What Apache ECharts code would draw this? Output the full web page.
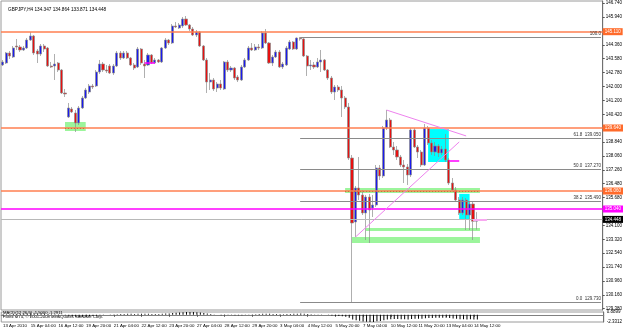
<!DOCTYPE html>
<html><head><meta charset="utf-8">
<script src="https://cdn.jsdelivr.net/npm/echarts@6/dist/echarts.min.js"></script>
<style>html,body{margin:0;padding:0;background:#fff}#c{width:625px;height:330px}</style>
</head><body><div id="c"></div>
<script>
const symbolTitle = "GBPJPY,H4";
const lastOHLC = [134.347, 134.864, 133.871, 134.448];
const opens = [143.219,143.332,143.900,143.673,144.298,144.241,144.071,144.184,144.638,144.866,
144.014,143.843,144.298,144.184,143.162,143.162,143.332,142.935,141.629,140.266,
140.720,140.493,139.925,140.777,141.345,141.685,142.026,142.026,142.821,143.275,
142.935,143.162,142.764,143.162,143.900,143.616,143.900,143.616,143.219,143.105,
144.127,143.275,143.219,143.787,143.332,143.503,143.389,144.184,144.638,144.468,
145.434,145.320,145.434,145.831,145.490,145.263,144.922,145.093,144.298,143.503,
142.253,142.367,141.913,142.140,141.856,143.389,142.935,143.048,142.537,142.367,
143.105,143.503,144.184,144.071,144.241,144.184,145.036,144.468,143.332,143.673,
143.957,143.105,143.219,144.127,144.525,144.127,144.740,144.700,143.730,143.162,
143.219,143.105,143.389,143.503,142.935,142.480,141.685,141.969,141.799,141.345,
140.834,137.937,134.303,136.234,135.836,134.814,135.722,135.098,135.268,137.370,
136.915,139.641,140.095,138.562,138.392,137.994,137.540,137.426,136.972,139.527,
138.562,138.278,137.540,139.641,138.789,138.278,138.618,138.221,138.448,137.824,
136.517,136.120,135.552,134.814,135.552,134.700,135.325,134.347];
const closes = [143.389,143.900,143.730,144.184,144.241,144.071,144.184,144.638,144.866,143.900,
143.843,144.298,144.127,143.162,143.105,143.275,142.935,141.629,141.572,140.777,
140.550,139.925,140.777,141.345,141.799,142.026,141.969,142.821,143.275,142.935,
142.878,142.764,143.162,143.900,143.616,143.900,143.616,143.219,143.048,144.127,
143.332,143.162,143.787,143.332,143.503,143.389,144.184,144.638,144.468,145.434,
145.377,145.490,145.831,145.490,145.263,144.922,145.093,144.298,143.503,142.253,
142.367,141.856,142.140,141.913,143.389,142.935,143.048,142.480,142.367,143.105,
143.503,144.184,144.071,144.241,144.184,145.036,144.468,143.332,143.673,143.957,
143.105,143.275,144.184,144.525,144.127,144.752,144.700,143.730,143.162,143.219,
143.105,143.389,143.503,142.935,142.480,141.685,141.969,141.799,141.345,140.834,
137.937,134.246,136.234,135.836,134.814,135.722,134.984,135.268,137.370,136.915,
139.641,140.095,138.562,138.392,137.994,137.540,137.426,136.972,139.527,138.562,
138.278,137.540,139.641,138.789,138.278,138.618,138.221,138.448,137.824,136.517,
136.120,135.552,134.814,135.552,134.700,135.325,134.347,134.448];
const highs = [143.503,143.957,144.014,144.298,144.695,144.354,144.298,144.752,145.093,144.922,
144.127,144.411,144.411,144.241,143.389,143.843,143.389,142.991,141.856,141.061,
140.834,140.663,140.890,141.458,141.913,142.140,142.140,142.935,143.503,143.389,
143.219,143.275,143.275,144.014,144.014,144.014,144.014,143.673,143.332,144.241,
144.184,143.503,143.900,143.843,143.616,143.559,144.241,144.752,144.695,145.547,
145.661,145.604,145.945,146.001,145.547,145.377,145.206,145.150,144.354,143.616,
142.764,142.480,142.253,142.367,143.446,143.503,143.162,143.105,142.651,143.219,
143.616,144.298,144.468,144.411,144.411,145.150,145.263,144.525,143.787,144.071,
144.071,143.389,144.298,144.638,144.582,144.780,144.810,144.750,143.787,143.503,
143.389,143.616,144.071,143.559,142.991,142.594,142.083,142.083,142.026,141.458,
141.061,138.107,136.347,137.994,136.120,135.836,135.893,135.836,137.540,137.540,
139.755,140.663,140.209,138.846,138.618,138.107,137.824,137.597,139.641,139.641,
138.675,138.392,139.868,139.755,138.959,138.846,138.732,138.618,139.300,137.937,
136.801,136.290,135.722,135.722,135.665,135.438,135.495,134.864];
const lows = [143.162,143.275,143.559,143.616,144.071,143.957,144.014,144.127,144.582,143.787,
143.332,143.730,143.957,143.105,143.048,142.367,142.821,141.572,141.401,140.209,
140.493,139.414,139.811,140.720,141.288,141.572,141.856,141.969,142.708,142.821,
142.764,142.708,142.651,143.105,143.503,143.559,143.559,143.162,142.935,143.048,
143.219,142.480,143.162,143.275,143.275,143.332,143.332,144.127,144.354,144.411,
145.320,145.263,145.320,145.434,145.150,144.866,144.809,144.241,143.446,141.629,
141.799,141.742,141.685,141.799,141.799,142.821,142.821,142.367,142.253,142.310,
143.048,143.446,144.014,144.014,144.071,144.127,144.411,143.275,143.162,143.616,
143.048,142.991,143.162,144.071,144.071,144.071,144.600,143.673,142.594,142.935,
142.991,143.048,142.821,142.878,142.367,141.572,141.231,141.685,140.266,140.720,
137.824,129.730,133.450,135.552,134.700,133.280,133.110,134.586,135.155,136.688,
136.801,139.527,138.505,138.107,137.824,137.426,136.517,136.404,136.858,138.505,
137.937,137.426,137.483,138.675,138.107,138.051,137.994,138.107,137.710,136.404,
136.006,135.438,134.700,134.700,133.848,133.848,133.280,133.871];
const macdValues = [0.15,0.18,0.2,0.25,0.3,0.33,0.35,0.4,0.45,0.42,
0.38,0.38,0.36,0.28,0.2,0.15,0.08,-0.05,-0.15,-0.35,
-0.5,-0.65,-0.7,-0.68,-0.6,-0.5,-0.42,-0.3,-0.15,-0.07,
0.0,0.05,0.1,0.18,0.22,0.28,0.3,0.3,0.28,0.33,
0.33,0.3,0.3,0.28,0.27,0.25,0.3,0.38,0.42,0.55,
0.65,0.72,0.82,0.88,0.89,0.85,0.82,0.75,0.6,0.4,
0.25,0.1,-0.02,-0.12,-0.05,-0.05,-0.06,-0.12,-0.18,-0.15,
-0.08,0.05,0.12,0.18,0.22,0.32,0.36,0.3,0.27,0.26,
0.2,0.17,0.22,0.28,0.3,0.36,0.4,0.35,0.25,0.18,
0.12,0.1,0.08,0.02,-0.08,-0.22,-0.3,-0.38,-0.5,-0.62,
-1.0,-1.55,-1.75,-1.95,-2.15,-2.25,-2.33,-2.3,-2.1,-2.0,
-1.75,-1.5,-1.45,-1.4,-1.4,-1.42,-1.45,-1.5,-1.35,-1.3,
-1.25,-1.25,-1.1,-1.05,-1.02,-1.0,-0.98,-0.95,-0.98,-1.08,
-1.18,-1.3,-1.42,-1.45,-1.5,-1.48,-1.52,-1.5];
const macdRange = [-2.3312, 0.8899];
const macdText = "MACD(12,26,9) -1.5000 -1.2911";
const copyrightText = "Forex MT4, \u00a9 2001-2008 MetaQuotes Software Corp.";
const totalSlots = 174;
const timeLabels = ["13 Apr 2010","15 Apr 04:00","16 Apr 12:00","19 Apr 20:00","21 Apr 04:00","22 Apr 12:00","23 Apr 20:00","27 Apr 04:00","28 Apr 12:00","29 Apr 20:00","3 May 04:00","4 May 12:00","5 May 20:00","7 May 04:00","10 May 12:00","11 May 20:00","13 May 04:00","14 May 12:00"];
const priceTicks = [146.740,145.940,144.360,143.580,142.780,142.000,141.200,140.420,138.840,138.060,137.260,136.480,135.680,134.100,133.320,132.540,131.740,130.960,130.160,129.380];
const priceRange = [129.305, 146.853];
const orangeLevels = [145.110, 139.640, 136.060];
const magentaLevels = [135.040];
const bidPrice = 134.448;
const fibStartBar = 86;
const fibPcts = ["0.0","38.2","50.0","61.8","100.0"];
const fibPrices = [129.730, 135.490, 137.270, 139.050, 144.810];
const greenBoxes = [[18,24,139.98,139.47],[99,138,136.23,135.95],[105,138,133.96,133.79],[101,138,133.45,133.11]];
const cyanBoxes = [[123,129,139.58,137.71],[132,135,135.90,134.42]];
const trendLines = [[111,140.66,134,139.19],[102,133.45,132,138.85]];
const magentaSegments = [[41,44,143.33],[129,132,137.77]];
const pinkSegments = [[136,140,134.45]];
const dottedSegments = [[18,24,139.640],[99,138,136.060]];

const FONT = 'Liberation Sans';
const categories = Array.from({length: totalSlots}, (_, i) => String(i));
const candleData = opens.map((o, i) => [o, closes[i], lows[i], highs[i]]);

const hLineData = [];
const boxLabel = (txt, bg) => ({show: true, position: 'end', formatter: txt, backgroundColor: bg, color: '#fff', padding: [1, 2], fontSize: 4.5, fontFamily: FONT, distance: 0});
orangeLevels.forEach(p => hLineData.push({yAxis: p, lineStyle: {color: '#ff7f50', width: 1.5, type: 'solid'}, label: boxLabel(p.toFixed(3), '#ff6a2a')}));
magentaLevels.forEach(p => hLineData.push({yAxis: p, lineStyle: {color: '#ff00ff', width: 1.5, type: 'solid'}, label: boxLabel(p.toFixed(3), '#ff00ff')}));
hLineData.push({yAxis: bidPrice, lineStyle: {color: '#b8b8b8', width: 1, type: 'solid'}, label: boxLabel(bidPrice.toFixed(3), '#000')});

const fibData = fibPrices.map((p, k) => [
  {coord: [fibStartBar, p], lineStyle: {color: '#8a8a8a', width: 1, type: 'solid'},
   label: {show: true, position: 'insideEndTop', formatter: k === fibPrices.length - 1 ? fibPcts[k] : fibPcts[k] + '  ' + p.toFixed(3),
     color: '#333', fontSize: 4.5, fontFamily: FONT, distance: [0, 1]}},
  {coord: [totalSlots - 1, p]}
]);

const areaData = [];
greenBoxes.forEach(b => areaData.push([{xAxis: b[0], yAxis: b[2], itemStyle: {color: '#9cf59c', opacity: 1}}, {xAxis: b[1], yAxis: b[3]}]));
cyanBoxes.forEach(b => areaData.push([{xAxis: b[0], yAxis: b[2], itemStyle: {color: '#00ffff', opacity: 1}}, {xAxis: b[1], yAxis: b[3]}]));
const dotData = dottedSegments.map(s => [{coord: [s[0], s[2]], lineStyle: {color: '#c8703a', width: 1, type: [1, 2]}}, {coord: [s[1], s[2]]}]);

const segData = [];
trendLines.forEach(t => segData.push([{coord: [t[0], t[1]], lineStyle: {color: '#ee82ee', width: 1, type: 'solid'}}, {coord: [t[2], t[3]]}]));
magentaSegments.forEach(s => segData.push([{coord: [s[0], s[2]], lineStyle: {color: '#ff00ff', width: 1.5, type: 'solid'}}, {coord: [s[1], s[2]]}]));
pinkSegments.forEach(s => segData.push([{coord: [s[0], s[2]], lineStyle: {color: '#f8a8f0', width: 2, type: 'solid'}}, {coord: [s[1], s[2]]}]));

const chart = echarts.init(document.getElementById('c'), null, {renderer: 'canvas'});
chart.setOption({
  animation: false,
  backgroundColor: '#fff',
  title: {text: symbolTitle + ' ' + lastOHLC.map(v => v.toFixed(3)).join(' '), left: 3, top: 2,
    textStyle: {fontSize: 4.7, fontWeight: 'normal', color: '#000', fontFamily: FONT}},
  graphic: [
    {type: 'text', left: 3, top: 311, style: {text: macdText, fontSize: 4.2, fill: '#000', fontFamily: FONT}},
    {type: 'text', left: 3, top: 315, style: {text: copyrightText, fontSize: 4.2, fill: '#000', fontFamily: FONT}}
  ],
  grid: [
    {left: 1, top: 1, width: 609, height: 309, show: true, borderColor: '#9a9a9a', borderWidth: 1},
    {left: 1, top: 312, width: 609, height: 10, show: true, borderColor: '#9a9a9a', borderWidth: 1}
  ],
  xAxis: [
    {type: 'category', gridIndex: 0, data: categories, boundaryGap: true, axisLine: {show: false}, axisTick: {show: false}, axisLabel: {show: false}, splitLine: {show: false}},
    {type: 'category', gridIndex: 1, data: categories, boundaryGap: true, position: 'bottom',
      axisLine: {show: true, lineStyle: {color: '#808080'}},
      axisTick: {show: true, alignWithLabel: true, length: 2, lineStyle: {color: '#555'}, interval: (i) => i % 8 === 0 && i / 8 < timeLabels.length},
      axisLabel: {show: true, interval: (i) => i % 8 === 0 && i / 8 < timeLabels.length, formatter: (v, i) => timeLabels[i / 8] || '',
        fontSize: 4.4, fontFamily: FONT, color: '#000', align: 'left', margin: 2}}
  ],
  yAxis: [
    {type: 'value', gridIndex: 0, position: 'right', min: priceRange[0], max: priceRange[1], scale: true,
      splitLine: {show: false}, axisLine: {show: true, lineStyle: {color: '#707070'}},
      axisTick: {show: true, length: 2, customValues: priceTicks, lineStyle: {color: '#555'}},
      axisLabel: {show: true, customValues: priceTicks, formatter: v => v.toFixed(3), fontSize: 4.5, fontFamily: FONT, color: '#000', margin: 3}},
    {type: 'value', gridIndex: 1, position: 'right', min: macdRange[0], max: macdRange[1],
      splitLine: {show: false}, axisLine: {show: true, lineStyle: {color: '#707070'}},
      axisTick: {show: false},
      axisLabel: {show: true, customValues: [macdRange[1], macdRange[0]], formatter: v => v.toFixed(4), fontSize: 4.5, fontFamily: FONT, color: '#000', margin: 3}}
  ],
  series: [
    {type: 'line', xAxisIndex: 0, yAxisIndex: 0, data: [], z: 1, silent: true,
      markLine: {symbol: 'none', silent: true, animation: false, lineStyle: {type: 'solid'}, data: hLineData.concat(fibData)}},
    {type: 'line', xAxisIndex: 0, yAxisIndex: 0, data: [], z: 2, silent: true,
      markArea: {silent: true, animation: false, data: areaData},
      markLine: {symbol: 'none', silent: true, animation: false, label: {show: false}, data: dotData}},
    {type: 'candlestick', xAxisIndex: 0, yAxisIndex: 0, data: candleData, z: 3, barWidth: 2.6,
      itemStyle: {color: '#1a1aee', color0: '#e81010', borderColor: '#8c8c8c', borderColor0: '#8c8c8c', borderWidth: 0.7}},
    {type: 'line', xAxisIndex: 0, yAxisIndex: 0, data: [], z: 4, silent: true,
      markLine: {symbol: 'none', silent: true, animation: false, lineStyle: {type: 'solid'}, label: {show: false}, data: segData}},
    {type: 'bar', xAxisIndex: 1, yAxisIndex: 1, data: macdValues, barWidth: 1, itemStyle: {color: '#000'}, z: 3}
  ]
});
</script></body></html>
